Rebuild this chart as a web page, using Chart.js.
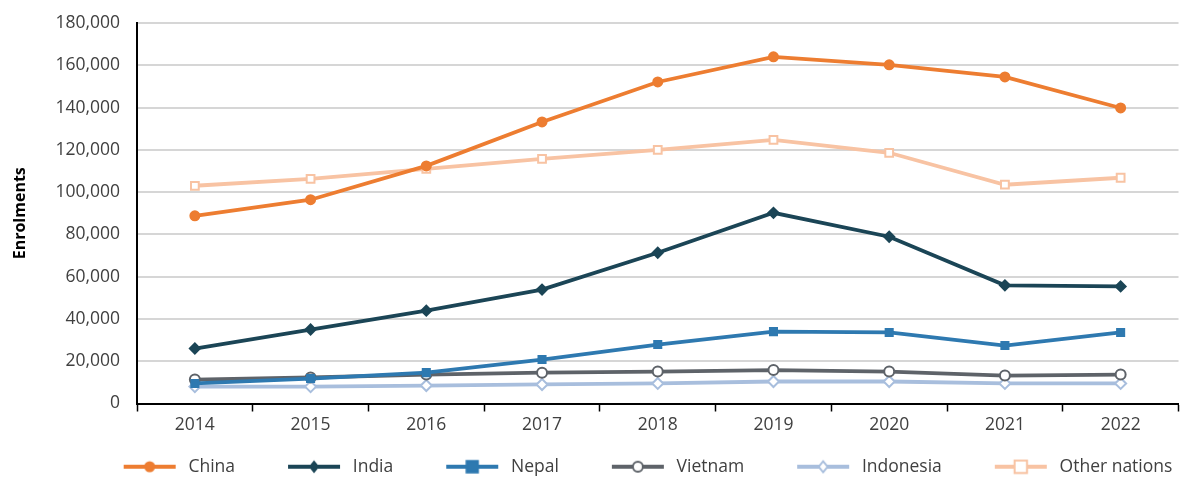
<!DOCTYPE html>
<html>
<head>
<meta charset="utf-8">
<script src="https://cdn.jsdelivr.net/npm/chart.js@4/dist/chart.umd.min.js"></script>
<style>
  body { margin: 0; background: #fff; }
  #wrap { width: 1186px; height: 477px; }
</style>
</head>
<body>
<div id="wrap"><canvas id="chart" width="1186" height="477"></canvas></div>
<script>
const years = ['2014', '2015', '2016', '2017', '2018', '2019', '2020', '2021', '2022'];

const china     = [88800, 96400, 112400, 133200, 152100, 164000, 160200, 154500, 139800];
const india     = [26000, 35000, 43900, 53900, 71300, 90200, 78900, 55900, 55400];
const nepal     = [9500, 11800, 14600, 20800, 27900, 34000, 33600, 27400, 33600];
const vietnam   = [11300, 12300, 13700, 14600, 15100, 15800, 15100, 13200, 13700];
const indonesia = [8000, 8000, 8500, 9000, 9500, 10400, 10400, 9500, 9500];
const others    = [103000, 106300, 111000, 115700, 120000, 124700, 118600, 103500, 106800];

const yMax = 180000;
const yStep = 20000;

const FONT = "'Open Sans', 'DejaVu Sans', sans-serif";
const TEXT = '#404040';

function series(label, data, color, style, fill, radius){
    return {
        label: label,
        data: data,
        borderColor: color,
        backgroundColor: color,
        borderWidth: 3.8,
        tension: 0,
        pointStyle: style,
        pointRadius: radius,
        pointBackgroundColor: fill,
        pointBorderColor: color,
        pointBorderWidth: 2,
        _fill: fill
    };
}

const datasets = [
    series('China', china, '#ED7D31', 'circle', '#ED7D31', 4.5),
    series('India', india, '#1B4556', 'rectRot', '#1B4556', 5),
    series('Nepal', nepal, '#2E79B0', 'rect', '#2E79B0', 5),
    series('Vietnam', vietnam, '#5E6369', 'circle', '#ffffff', 5),
    series('Indonesia', indonesia, '#A8BEDD', 'rectRot', '#ffffff', 5.5),
    series('Other nations', others, '#F8C3A3', 'rect', '#ffffff', 5.5)
];

// legend swatch: line with the marker in the middle
const SW_LEFT = 43, SW_LINE = 52, SW_RIGHT = 4, SW_H = 16;
function swatch(ds){
    let c = document.createElement('canvas');
    c.width = SW_LEFT + SW_LINE + SW_RIGHT;
    c.height = SW_H;
    let g = c.getContext('2d');
    let cy = SW_H / 2, cx = SW_LEFT + SW_LINE / 2;
    g.strokeStyle = ds.borderColor;
    g.lineWidth = 3.8;
    g.beginPath();
    g.moveTo(SW_LEFT, cy);
    g.lineTo(SW_LEFT + SW_LINE, cy);
    g.stroke();
    g.fillStyle = ds._fill;
    g.lineWidth = 2;
    let r = ds.pointRadius;
    g.beginPath();
    if (ds.pointStyle === 'circle') {
        g.arc(cx, cy, r, 0, Math.PI * 2);
    } else if (ds.pointStyle === 'rect') {
        let s = r * Math.SQRT1_2 * 1.6;
        g.rect(cx - s, cy - s, s * 2, s * 2);
    } else {
        g.moveTo(cx, cy - r); g.lineTo(cx + r * 0.8, cy);
        g.lineTo(cx, cy + r); g.lineTo(cx - r * 0.8, cy);
        g.closePath();
    }
    g.fill();
    g.stroke();
    return c;
}

const legendShift = {
    id: 'legendShift',
    afterLayout(chart){
        let lg = chart.legend;
        lg.left += 36; lg.right += 36;
        lg.top += 8.5; lg.bottom += 8.5;
    }
};

const config = {
    type: 'line',
    data: { labels: years, datasets: datasets },
    options: {
        responsive: false,
        devicePixelRatio: 1,
        animation: false,
        layout: { padding: { top: 23, right: 5, left: 0, bottom: 0 } },
        plugins: {
            tooltip: { enabled: false },
            legend: {
                position: 'bottom',
                labels: {
                    usePointStyle: true,
                    pointStyleWidth: SW_LEFT + SW_LINE + SW_RIGHT,
                    padding: 10,
                    color: TEXT,
                    font: { family: FONT, size: 17.5 },
                    generateLabels(chart){
                        return chart.data.datasets.map((ds, i) => ({
                            text: ds.label,
                            pointStyle: swatch(ds),
                            fillStyle: ds.borderColor,
                            strokeStyle: ds.borderColor,
                            lineWidth: 0,
                            fontColor: TEXT,
                            datasetIndex: i,
                            hidden: !chart.isDatasetVisible(i)
                        }));
                    }
                }
            }
        },
        scales: {
            x: {
                offset: true,
                grid: {
                    offset: true,
                    drawOnChartArea: false,
                    drawTicks: true,
                    tickLength: 8,
                    tickColor: '#000000',
                    tickWidth: 1.5
                },
                border: { color: '#000000', width: 2 },
                ticks: { color: TEXT, font: { family: FONT, size: 17.5 }, padding: 3, maxRotation: 0 },
                afterFit(scale){ scale.height = 36; }
            },
            y: {
                min: 0,
                max: yMax,
                grid: { color: '#D6D6D6', lineWidth: 2, drawTicks: false },
                border: { color: '#000000', width: 2 },
                ticks: {
                    stepSize: yStep,
                    color: TEXT,
                    padding: 17,
                    font: { family: FONT, size: 17.5 },
                    callback: v => v.toLocaleString('en-US')
                },
                title: {
                    display: true,
                    text: 'Enrolments',
                    color: '#000000',
                    font: { family: FONT, size: 16, weight: 'bold' },
                    padding: { top: 11, bottom: 0 }
                },
                afterFit(scale){
                    scale.width = 137;
                    scale.paddingTop = 0;
                    scale.paddingBottom = 0;
                }
            }
        }
    },
    plugins: [legendShift]
};

new Chart(document.getElementById('chart').getContext('2d'), config);
</script>
</body>
</html>
